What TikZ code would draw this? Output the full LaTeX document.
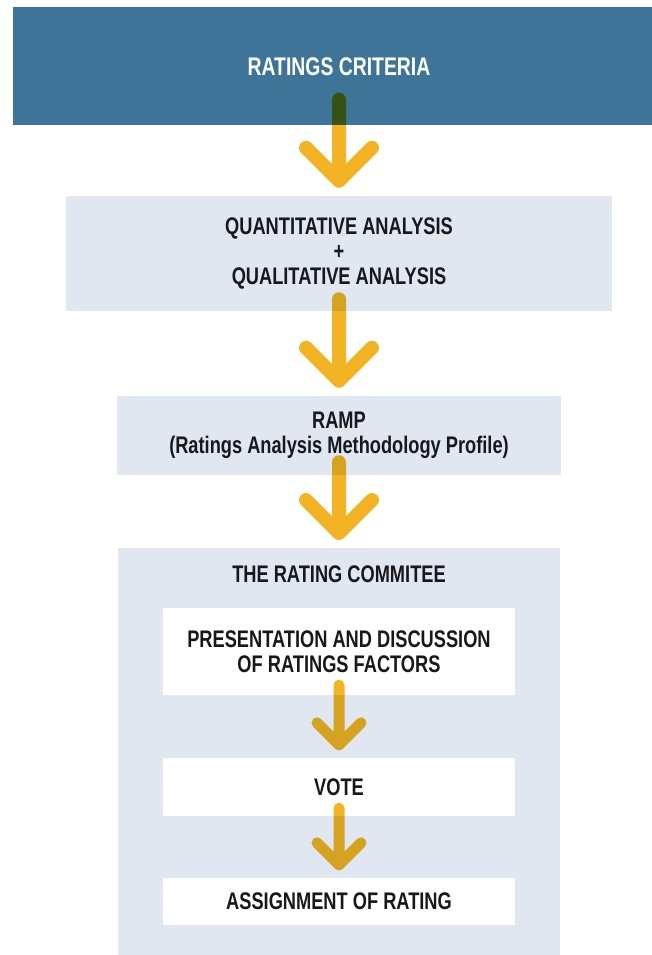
\documentclass[tikz,border=0pt]{standalone}
\usepackage{fontspec}
\newfontfamily\condsf{Liberation Sans}[FakeStretch=0.76]
\usetikzlibrary{calc}
\definecolor{bannerblue}{RGB}{62,116,151}
\definecolor{boxgray}{RGB}{225,231,240}
\definecolor{arrowgold}{RGB}{242,180,36}
\definecolor{inkdark}{RGB}{24,24,28}
\begin{document}
\begin{tikzpicture}[x=1pt, y=1pt, line join=round, line cap=round,
    box/.style={fill=boxgray, text=inkdark, align=center, inner sep=0pt,
        font=\condsf\bfseries\fontsize{24}{25}\selectfont},
    whitebox/.style={box, fill=white, minimum width=352},
    chev/.style 2 args={draw=arrowgold, line width=#1,
        to path={-- (\tikztotarget) -- ++(-#2,#2) (\tikztotarget) -- ++(#2,#2)}}]
    \path[use as bounding box, fill=white] (0,0) rectangle (652,-955);
    % steps
    \node[box, fill=bannerblue, text=white, minimum width=652, minimum height=118,
        font=\condsf\bfseries\fontsize{25.5}{27}\selectfont] (crit) at (339,-66.5) {RATINGS CRITERIA};
    \node[box, minimum width=546, minimum height=115] (quant) at (339,-253.5)
        {QUANTITATIVE ANALYSIS\\+\\QUALITATIVE ANALYSIS};
    \node[box, minimum width=444, minimum height=79] (ramp) at (339,-435.5)
        {RAMP\\(Ratings Analysis Methodology Profile)};
    \node[box, minimum width=442, minimum height=412, anchor=north] (cttee) at (339,-548) {};
    \node[box, fill=none] (cttitle) at (339,-574) {THE RATING COMMITEE};
    \node[whitebox, minimum height=87] (present) at (339,-651.5)
        {PRESENTATION AND DISCUSSION\\OF RATINGS FACTORS};
    \node[whitebox, minimum height=58] (vote) at (339,-787) {VOTE};
    \node[whitebox, minimum height=47] (assign) at (339,-901.5) {ASSIGNMENT OF RATING};
    % arrows
    \begin{scope}[blend mode=multiply]
        \foreach \a/\b/\s/\e/\w/\h in {crit/quant/26/15/14/33, quant/ramp/12/15/14/33,
            ramp/cttee/13/15/14/33, present/vote/10/13/11/22, vote/assign/8/13/11/22}
        \draw[chev={\w}{\h}] ($(\a.south)+(0,\s)$) to ($(\b.north)+(0,\e)$);
    \end{scope}
\end{tikzpicture}
\end{document}
